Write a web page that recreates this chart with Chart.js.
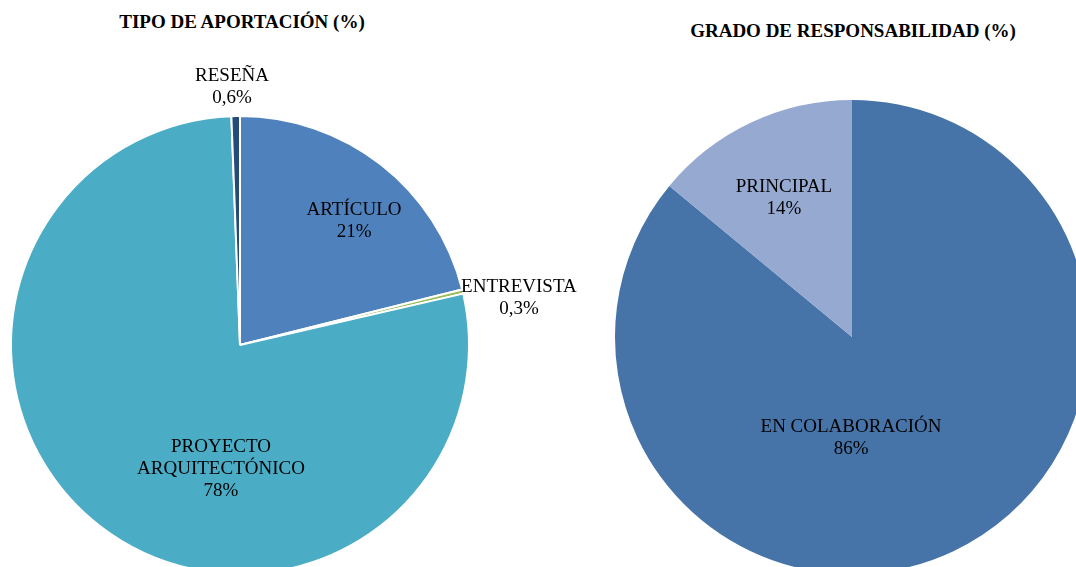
<!DOCTYPE html>
<html>
<head>
<meta charset="utf-8">
<script src="https://cdn.jsdelivr.net/npm/chart.js@4/dist/chart.umd.min.js"></script>
<style>
    html, body {
        margin: 0;
        width: 1076px;
        height: 567px;
        overflow: hidden;
        background: #fff;
    }
    .title {
        position: absolute;
        font-family: "Liberation Serif", serif;
        font-weight: bold;
        font-size: 19px;
        line-height: 22px;
        color: #000;
        transform: translateX(-50%);
        white-space: nowrap;
    }
    canvas {
        position: absolute;
    }
</style>
</head>
<body>

<div class="title" style="left:242px; top:11px;">TIPO DE APORTACIÓN (%)</div>
<div class="title" style="left:853px; top:20px;">GRADO DE RESPONSABILIDAD (%)</div>

<canvas id="tipoChart" style="left:0; top:0;"></canvas>
<canvas id="gradoChart" style="left:538px; top:0;"></canvas>

<script>
// tipo de aportación
const tipoLabels = ["ARTÍCULO", "ENTREVISTA", "PROYECTO ARQUITECTÓNICO", "RESEÑA"];
const tipoValues = [21.1, 0.3, 78.0, 0.6];
const tipoText = [["ARTÍCULO", "21%"], ["ENTREVISTA", "0,3%"], ["PROYECTO", "ARQUITECTÓNICO", "78%"], ["RESEÑA", "0,6%"]];
const tipoColors = ["#4F81BD", "#9BBB59", "#4BACC6", "#254B78"];
// label spot, in radius units from the centre
const tipoLabelPos = [[0.498, -0.541], [1.218, -0.205], [-0.083, 0.541], [-0.035, -1.127]];

// grado de responsabilidad
const gradoLabels = ["EN COLABORACIÓN", "PRINCIPAL"];
const gradoValues = [86, 14];
const gradoText = [["EN COLABORACIÓN", "86%"], ["PRINCIPAL", "14%"]];
const gradoColors = ["#4674A8", "#95A9D1"];
const gradoLabelPos = [[-0.004, 0.426], [-0.287, -0.586]];

const sliceLabels = {
    id: "sliceLabels",
    afterDraw(chart, args, opts) {
        const arc = chart.getDatasetMeta(0).data[0];
        const cx = arc.x;
        const cy = arc.y;
        const r = arc.outerRadius;
        const c = chart.ctx;
        c.save();
        c.font = "19px 'Liberation Serif'";
        c.fillStyle = "#000";
        c.textAlign = "center";
        c.textBaseline = "middle";
        opts.text.forEach((lines, i) => {
            const x = cx + opts.pos[i][0] * r;
            const y = cy + opts.pos[i][1] * r;
            const lh = 22;
            const y0 = y - (lines.length - 1) * lh / 2;
            lines.forEach((t, j) => {
                c.fillText(t, x, y0 + j * lh);
            });
        });
        c.restore();
    }
};

function makePie(id, w, h, pad, labels, values, colors, border, text, pos) {
    const el = document.getElementById(id);
    el.width = w;
    el.height = h;
    el.style.width = w + "px";
    el.style.height = h + "px";
    return new Chart(el.getContext("2d"), {
        type: "pie",
        data: {
            labels: labels,
            datasets: [{
                data: values,
                backgroundColor: colors,
                borderColor: "#fff",
                borderWidth: border
            }]
        },
        options: {
            responsive: false,
            animation: false,
            layout: { padding: pad },
            plugins: {
                legend: { display: false },
                tooltip: { enabled: false },
                sliceLabels: { text: text, pos: pos }
            }
        },
        plugins: [sliceLabels]
    });
}

makePie("tipoChart", 600, 600,
    { left: 10, top: 114, right: 130, bottom: 24 },
    tipoLabels, tipoValues, tipoColors, 2, tipoText, tipoLabelPos);

makePie("gradoChart", 560, 600,
    { left: 77, top: 100, right: 9, bottom: 26 },
    gradoLabels, gradoValues, gradoColors, 0, gradoText, gradoLabelPos);
</script>
</body>
</html>
